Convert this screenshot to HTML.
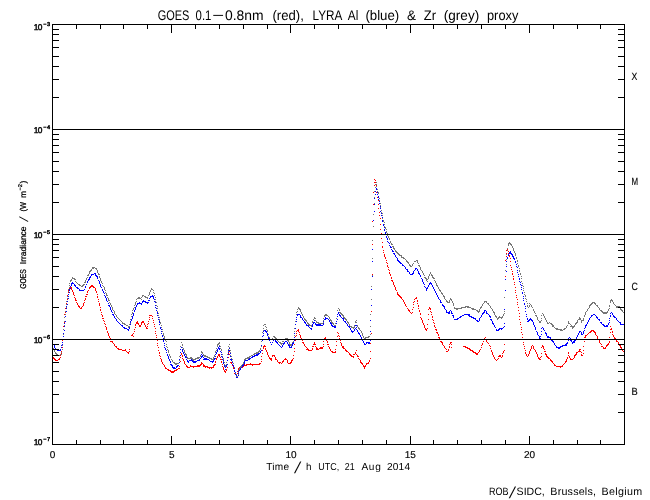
<!DOCTYPE html>
<html><head><meta charset="utf-8"><title>GOES / LYRA proxy</title>
<style>
html,body{margin:0;padding:0;background:#fff}
svg{display:block}
text{font-family:"Liberation Sans",sans-serif;fill:#000;stroke:#000;stroke-width:0;text-rendering:geometricPrecision}
#yticks text{stroke-width:0.45px}
#ylabel text{stroke-width:0.25px}
#classes text,#xticks text{stroke-width:0.15px}
</style></head><body>
<svg width="650" height="500" viewBox="0 0 650 500">
<rect width="650" height="500" fill="#fff"/>
<g shape-rendering="crispEdges">
<path fill="#ff0000" d="M374 179h1v1h-1zM375 180h1v1h-1zM374 182h2v1h-2zM374 185h1v1h-1zM376 185h1v1h-1zM376 188h1v1h-1zM373 192h1v1h-1zM376 192h1v1h-1zM377 194h1v1h-1zM377 197h1v1h-1zM378 200h1v1h-1zM373 204h1v1h-1zM378 204h1v1h-1zM378 208h1v1h-1zM379 212h1v1h-1zM379 215h1v1h-1zM380 218h1v1h-1zM372 221h1v1h-1zM380 224h1v1h-1zM380 229h1v1h-1zM381 233h1v1h-1zM381 238h1v1h-1zM382 242h1v1h-1zM372 244h1v1h-1zM382 246h1v1h-1zM382 247h1v1h-1zM507 249h1v1h-1zM383 250h1v1h-1zM506 250h1v1h-1zM508 251h1v1h-1zM383 252h1v1h-1zM506 253h1v1h-1zM508 253h1v1h-1zM384 254h1v1h-1zM384 255h1v1h-1zM509 255h1v1h-1zM384 256h1v1h-1zM506 256h1v1h-1zM509 256h1v1h-1zM385 257h1v1h-1zM385 258h1v1h-1zM510 258h1v1h-1zM386 260h1v1h-1zM505 260h1v1h-1zM510 261h1v1h-1zM386 262h1v1h-1zM387 263h1v1h-1zM387 265h1v1h-1zM510 265h1v1h-1zM387 266h1v1h-1zM388 267h1v1h-1zM511 267h1v1h-1zM388 269h1v1h-1zM511 269h1v1h-1zM389 270h1v1h-1zM512 271h1v1h-1zM389 272h1v1h-1zM389 273h1v1h-1zM512 273h1v1h-1zM372 274h1v1h-1zM390 274h1v1h-1zM512 274h1v1h-1zM390 275h1v1h-1zM505 276h1v1h-1zM513 276h1v1h-1zM391 277h1v1h-1zM391 278h1v1h-1zM513 278h1v1h-1zM513 279h1v1h-1zM391 280h2v1h-2zM392 281h1v1h-1zM393 282h1v1h-1zM514 282h1v1h-1zM393 283h1v1h-1zM393 284h1v1h-1zM514 284h1v1h-1zM91 285h2v1h-2zM394 285h1v1h-1zM90 286h4v1h-4zM394 286h1v1h-1zM69 287h3v1h-3zM89 287h2v1h-2zM93 287h2v1h-2zM395 287h1v1h-1zM515 287h1v1h-1zM69 288h1v1h-1zM71 288h1v1h-1zM89 288h1v1h-1zM95 288h1v1h-1zM395 288h1v1h-1zM71 289h1v1h-1zM95 289h1v1h-1zM395 289h1v1h-1zM68 290h1v1h-1zM72 290h1v1h-1zM88 290h1v1h-1zM95 290h1v1h-1zM396 290h1v1h-1zM515 290h1v1h-1zM72 291h1v1h-1zM87 291h1v1h-1zM96 291h1v1h-1zM68 292h1v1h-1zM73 292h1v1h-1zM87 292h1v1h-1zM96 292h1v1h-1zM397 292h1v1h-1zM515 292h1v1h-1zM73 293h1v1h-1zM397 293h1v1h-1zM68 294h1v1h-1zM73 294h1v1h-1zM86 294h2v1h-2zM97 294h1v1h-1zM397 294h2v1h-2zM67 295h1v1h-1zM74 295h1v1h-1zM398 295h2v1h-2zM516 295h1v1h-1zM85 296h2v1h-2zM97 296h1v1h-1zM399 296h2v1h-2zM74 297h1v1h-1zM97 297h1v1h-1zM400 297h2v1h-2zM416 297h1v1h-1zM516 297h1v1h-1zM75 298h1v1h-1zM85 298h1v1h-1zM401 298h1v1h-1zM415 298h2v1h-2zM67 299h1v1h-1zM75 299h1v1h-1zM85 299h1v1h-1zM98 299h1v1h-1zM402 299h1v1h-1zM414 299h1v1h-1zM517 299h1v1h-1zM75 300h2v1h-2zM84 300h1v1h-1zM403 300h1v1h-1zM417 300h1v1h-1zM66 301h1v1h-1zM98 301h1v1h-1zM403 301h1v1h-1zM414 301h1v1h-1zM417 301h1v1h-1zM76 302h1v1h-1zM84 302h1v1h-1zM404 302h1v1h-1zM413 302h1v1h-1zM517 302h1v1h-1zM66 303h1v1h-1zM77 303h1v1h-1zM83 303h1v1h-1zM99 303h1v1h-1zM404 303h1v1h-1zM417 303h1v1h-1zM77 304h1v1h-1zM83 304h1v1h-1zM99 304h1v1h-1zM405 304h1v1h-1zM413 304h1v1h-1zM517 304h1v1h-1zM78 305h1v1h-1zM83 305h1v1h-1zM99 305h1v1h-1zM405 305h1v1h-1zM418 305h1v1h-1zM66 306h1v1h-1zM78 306h2v1h-2zM82 306h1v1h-1zM406 306h1v1h-1zM418 306h1v1h-1zM79 307h1v1h-1zM81 307h1v1h-1zM100 307h1v1h-1zM413 307h1v1h-1zM429 307h1v1h-1zM518 307h1v1h-1zM65 308h1v1h-1zM80 308h2v1h-2zM407 308h1v1h-1zM418 308h1v1h-1zM429 308h2v1h-2zM100 309h1v1h-1zM408 309h1v1h-1zM412 309h1v1h-1zM428 309h1v1h-1zM430 309h1v1h-1zM100 310h1v1h-1zM408 310h2v1h-2zM419 310h1v1h-1zM518 310h1v1h-1zM371 311h1v1h-1zM409 311h1v1h-1zM419 311h1v1h-1zM430 311h1v1h-1zM504 311h1v1h-1zM65 312h1v1h-1zM101 312h1v1h-1zM410 312h1v1h-1zM412 312h1v1h-1zM431 312h1v1h-1zM411 313h1v1h-1zM420 313h1v1h-1zM519 313h1v1h-1zM64 314h1v1h-1zM101 314h1v1h-1zM420 314h1v1h-1zM428 314h1v1h-1zM431 314h1v1h-1zM102 315h1v1h-1zM149 315h3v1h-3zM102 316h1v1h-1zM152 316h1v1h-1zM432 316h1v1h-1zM519 316h1v1h-1zM64 317h1v1h-1zM149 317h1v1h-1zM420 317h1v1h-1zM432 317h1v1h-1zM102 318h2v1h-2zM152 318h1v1h-1zM421 318h1v1h-1zM149 319h1v1h-1zM421 319h1v1h-1zM428 319h1v1h-1zM432 319h1v1h-1zM519 319h1v1h-1zM103 320h1v1h-1zM153 320h1v1h-1zM422 320h1v1h-1zM433 320h1v1h-1zM104 321h1v1h-1zM137 321h1v1h-1zM142 321h2v1h-2zM148 321h1v1h-1zM422 321h1v1h-1zM64 322h1v1h-1zM136 322h2v1h-2zM141 322h3v1h-3zM153 322h1v1h-1zM422 322h1v1h-1zM433 322h1v1h-1zM520 322h1v1h-1zM104 323h1v1h-1zM136 323h3v1h-3zM141 323h1v1h-1zM144 323h1v1h-1zM148 323h1v1h-1zM423 323h1v1h-1zM434 323h1v1h-1zM105 324h1v1h-1zM135 324h1v1h-1zM138 324h1v1h-1zM141 324h1v1h-1zM144 324h1v1h-1zM147 324h1v1h-1zM154 324h1v1h-1zM423 324h1v1h-1zM427 324h1v1h-1zM520 324h1v1h-1zM135 325h1v1h-1zM139 325h2v1h-2zM145 325h1v1h-1zM424 325h1v1h-1zM434 325h1v1h-1zM63 326h1v1h-1zM105 326h1v1h-1zM139 326h2v1h-2zM145 326h1v1h-1zM147 326h1v1h-1zM154 326h1v1h-1zM424 326h1v1h-1zM434 326h1v1h-1zM610 326h1v1h-1zM106 327h1v1h-1zM135 327h1v1h-1zM146 327h1v1h-1zM424 327h1v1h-1zM435 327h1v1h-1zM521 327h1v1h-1zM106 328h1v1h-1zM146 328h2v1h-2zM155 328h1v1h-1zM425 328h1v1h-1zM427 328h1v1h-1zM611 328h1v1h-1zM106 329h1v1h-1zM134 329h1v1h-1zM298 329h1v1h-1zM425 329h2v1h-2zM435 329h2v1h-2zM521 329h1v1h-1zM610 329h2v1h-2zM297 330h2v1h-2zM426 330h1v1h-1zM436 330h1v1h-1zM591 330h3v1h-3zM107 331h1v1h-1zM134 331h1v1h-1zM155 331h1v1h-1zM296 331h1v1h-1zM298 331h1v1h-1zM590 331h2v1h-2zM593 331h2v1h-2zM612 331h1v1h-1zM107 332h1v1h-1zM299 332h1v1h-1zM337 332h1v1h-1zM436 332h2v1h-2zM521 332h1v1h-1zM589 332h2v1h-2zM594 332h2v1h-2zM610 332h1v1h-1zM612 332h1v1h-1zM63 333h1v1h-1zM108 333h1v1h-1zM133 333h1v1h-1zM155 333h1v1h-1zM296 333h1v1h-1zM338 333h1v1h-1zM371 333h1v1h-1zM437 333h1v1h-1zM588 333h1v1h-1zM595 333h1v1h-1zM108 334h1v1h-1zM132 334h1v1h-1zM299 334h1v1h-1zM438 334h1v1h-1zM522 334h1v1h-1zM587 334h1v1h-1zM595 334h1v1h-1zM612 334h1v1h-1zM108 335h1v1h-1zM131 335h2v1h-2zM156 335h1v1h-1zM296 335h1v1h-1zM300 335h1v1h-1zM338 335h1v1h-1zM438 335h1v1h-1zM585 335h2v1h-2zM596 335h1v1h-1zM613 335h1v1h-1zM109 336h1v1h-1zM133 336h1v1h-1zM295 336h1v1h-1zM300 336h1v1h-1zM337 336h1v1h-1zM339 336h1v1h-1zM585 336h1v1h-1zM597 336h1v1h-1zM613 336h1v1h-1zM109 337h1v1h-1zM156 337h1v1h-1zM300 337h1v1h-1zM325 337h1v1h-1zM438 337h2v1h-2zM485 337h1v1h-1zM522 337h1v1h-1zM584 337h2v1h-2zM597 337h1v1h-1zM609 337h1v1h-1zM614 337h1v1h-1zM110 338h1v1h-1zM301 338h1v1h-1zM324 338h2v1h-2zM339 338h1v1h-1zM439 338h1v1h-1zM484 338h1v1h-1zM597 338h1v1h-1zM614 338h2v1h-2zM110 339h1v1h-1zM301 339h1v1h-1zM324 339h1v1h-1zM326 339h1v1h-1zM339 339h1v1h-1zM440 339h1v1h-1zM484 339h1v1h-1zM486 339h1v1h-1zM523 339h1v1h-1zM598 339h1v1h-1zM614 339h2v1h-2zM62 340h1v1h-1zM157 340h1v1h-1zM295 340h1v1h-1zM302 340h1v1h-1zM326 340h1v1h-1zM340 340h1v1h-1zM486 340h1v1h-1zM599 340h1v1h-1zM616 340h1v1h-1zM110 341h3v1h-3zM323 341h1v1h-1zM327 341h1v1h-1zM336 341h1v1h-1zM440 341h2v1h-2zM483 341h1v1h-1zM486 341h1v1h-1zM584 341h1v1h-1zM599 341h1v1h-1zM609 341h1v1h-1zM616 341h2v1h-2zM112 342h1v1h-1zM302 342h2v1h-2zM314 342h1v1h-1zM327 342h1v1h-1zM340 342h1v1h-1zM441 342h2v1h-2zM450 342h2v1h-2zM487 342h1v1h-1zM523 342h1v1h-1zM599 342h1v1h-1zM609 342h1v1h-1zM618 342h1v1h-1zM113 343h1v1h-1zM157 343h1v1h-1zM303 343h1v1h-1zM314 343h1v1h-1zM341 343h1v1h-1zM370 343h1v1h-1zM442 343h1v1h-1zM450 343h1v1h-1zM482 343h1v1h-1zM488 343h1v1h-1zM600 343h1v1h-1zM608 343h1v1h-1zM618 343h1v1h-1zM114 344h1v1h-1zM294 344h1v1h-1zM304 344h1v1h-1zM313 344h3v1h-3zM323 344h1v1h-1zM327 344h2v1h-2zM341 344h1v1h-1zM442 344h1v1h-1zM449 344h1v1h-1zM451 344h1v1h-1zM482 344h1v1h-1zM504 344h1v1h-1zM523 344h1v1h-1zM601 344h1v1h-1zM607 344h2v1h-2zM619 344h1v1h-1zM114 345h1v1h-1zM157 345h1v1h-1zM264 345h1v1h-1zM304 345h1v1h-1zM336 345h1v1h-1zM341 345h1v1h-1zM443 345h1v1h-1zM481 345h1v1h-1zM489 345h1v1h-1zM532 345h1v1h-1zM542 345h1v1h-1zM606 345h2v1h-2zM619 345h2v1h-2zM115 346h2v1h-2zM263 346h3v1h-3zM305 346h1v1h-1zM312 346h2v1h-2zM315 346h1v1h-1zM323 346h1v1h-1zM328 346h1v1h-1zM342 346h2v1h-2zM444 346h1v1h-1zM449 346h1v1h-1zM463 346h3v1h-3zM490 346h1v1h-1zM524 346h1v1h-1zM531 346h1v1h-1zM533 346h1v1h-1zM542 346h2v1h-2zM583 346h1v1h-1zM601 346h2v1h-2zM606 346h1v1h-1zM620 346h1v1h-1zM62 347h1v1h-1zM116 347h1v1h-1zM158 347h1v1h-1zM263 347h1v1h-1zM306 347h1v1h-1zM316 347h1v1h-1zM320 347h3v1h-3zM329 347h1v1h-1zM342 347h2v1h-2zM444 347h1v1h-1zM449 347h1v1h-1zM451 347h1v1h-1zM465 347h3v1h-3zM481 347h1v1h-1zM531 347h1v1h-1zM533 347h1v1h-1zM541 347h1v1h-1zM543 347h1v1h-1zM603 347h1v1h-1zM605 347h1v1h-1zM620 347h2v1h-2zM117 348h2v1h-2zM263 348h1v1h-1zM265 348h1v1h-1zM294 348h1v1h-1zM307 348h1v1h-1zM312 348h1v1h-1zM316 348h2v1h-2zM319 348h4v1h-4zM329 348h1v1h-1zM343 348h2v1h-2zM445 348h1v1h-1zM467 348h3v1h-3zM490 348h1v1h-1zM524 348h1v1h-1zM531 348h1v1h-1zM533 348h1v1h-1zM543 348h1v1h-1zM603 348h3v1h-3zM621 348h1v1h-1zM62 349h1v1h-1zM118 349h4v1h-4zM125 349h1v1h-1zM129 349h1v1h-1zM265 349h1v1h-1zM306 349h3v1h-3zM312 349h1v1h-1zM316 349h3v1h-3zM330 349h1v1h-1zM335 349h1v1h-1zM345 349h1v1h-1zM446 349h1v1h-1zM448 349h1v1h-1zM469 349h2v1h-2zM480 349h1v1h-1zM530 349h1v1h-1zM534 349h1v1h-1zM544 349h1v1h-1zM579 349h2v1h-2zM622 349h1v1h-1zM122 350h4v1h-4zM158 350h1v1h-1zM262 350h1v1h-1zM266 350h1v1h-1zM308 350h4v1h-4zM330 350h1v1h-1zM345 350h2v1h-2zM356 350h1v1h-1zM448 350h1v1h-1zM470 350h3v1h-3zM479 350h1v1h-1zM491 350h1v1h-1zM504 350h1v1h-1zM525 350h1v1h-1zM530 350h1v1h-1zM535 350h1v1h-1zM579 350h1v1h-1zM583 350h1v1h-1zM622 350h1v1h-1zM61 351h1v1h-1zM126 351h1v1h-1zM129 351h1v1h-1zM229 351h1v1h-1zM266 351h1v1h-1zM294 351h1v1h-1zM331 351h2v1h-2zM335 351h1v1h-1zM346 351h2v1h-2zM370 351h1v1h-1zM446 351h2v1h-2zM472 351h2v1h-2zM479 351h1v1h-1zM491 351h1v1h-1zM503 351h1v1h-1zM529 351h1v1h-1zM535 351h1v1h-1zM544 351h2v1h-2zM578 351h3v1h-3zM623 351h1v1h-1zM127 352h2v1h-2zM159 352h1v1h-1zM267 352h1v1h-1zM332 352h4v1h-4zM348 352h1v1h-1zM355 352h1v1h-1zM473 352h3v1h-3zM478 352h1v1h-1zM492 352h1v1h-1zM503 352h1v1h-1zM525 352h1v1h-1zM529 352h1v1h-1zM536 352h1v1h-1zM568 352h1v1h-1zM576 352h2v1h-2zM581 352h1v1h-1zM61 353h1v1h-1zM128 353h1v1h-1zM159 353h1v1h-1zM181 353h1v1h-1zM228 353h1v1h-1zM262 353h1v1h-1zM267 353h1v1h-1zM349 353h1v1h-1zM355 353h1v1h-1zM475 353h3v1h-3zM492 353h1v1h-1zM502 353h1v1h-1zM525 353h1v1h-1zM529 353h1v1h-1zM536 353h1v1h-1zM541 353h1v1h-1zM545 353h1v1h-1zM568 353h1v1h-1zM576 353h1v1h-1zM583 353h1v1h-1zM181 354h1v1h-1zM218 354h2v1h-2zM228 354h2v1h-2zM267 354h1v1h-1zM349 354h2v1h-2zM353 354h2v1h-2zM356 354h1v1h-1zM476 354h2v1h-2zM492 354h1v1h-1zM526 354h1v1h-1zM528 354h1v1h-1zM537 354h1v1h-1zM545 354h2v1h-2zM575 354h2v1h-2zM581 354h1v1h-1zM60 355h1v1h-1zM159 355h1v1h-1zM180 355h1v1h-1zM182 355h1v1h-1zM218 355h2v1h-2zM268 355h1v1h-1zM272 355h3v1h-3zM293 355h1v1h-1zM350 355h2v1h-2zM357 355h1v1h-1zM493 355h1v1h-1zM499 355h2v1h-2zM502 355h1v1h-1zM526 355h1v1h-1zM528 355h1v1h-1zM537 355h1v1h-1zM546 355h1v1h-1zM568 355h1v1h-1zM574 355h2v1h-2zM581 355h2v1h-2zM160 356h1v1h-1zM182 356h1v1h-1zM217 356h1v1h-1zM219 356h1v1h-1zM230 356h1v1h-1zM261 356h1v1h-1zM268 356h1v1h-1zM272 356h1v1h-1zM274 356h1v1h-1zM351 356h3v1h-3zM357 356h2v1h-2zM493 356h1v1h-1zM498 356h3v1h-3zM502 356h1v1h-1zM527 356h1v1h-1zM537 356h1v1h-1zM541 356h1v1h-1zM546 356h2v1h-2zM569 356h1v1h-1zM574 356h1v1h-1zM52 357h2v1h-2zM60 357h1v1h-1zM180 357h1v1h-1zM217 357h1v1h-1zM220 357h1v1h-1zM228 357h1v1h-1zM269 357h1v1h-1zM275 357h1v1h-1zM353 357h1v1h-1zM494 357h1v1h-1zM501 357h1v1h-1zM538 357h1v1h-1zM540 357h1v1h-1zM547 357h2v1h-2zM567 357h1v1h-1zM569 357h1v1h-1zM574 357h1v1h-1zM52 358h3v1h-3zM59 358h1v1h-1zM160 358h1v1h-1zM182 358h1v1h-1zM216 358h1v1h-1zM269 358h3v1h-3zM275 358h1v1h-1zM285 358h1v1h-1zM293 358h1v1h-1zM358 358h1v1h-1zM370 358h1v1h-1zM494 358h1v1h-1zM498 358h1v1h-1zM538 358h2v1h-2zM548 358h2v1h-2zM567 358h1v1h-1zM570 358h1v1h-1zM573 358h1v1h-1zM54 359h2v1h-2zM58 359h2v1h-2zM161 359h1v1h-1zM183 359h1v1h-1zM216 359h1v1h-1zM220 359h2v1h-2zM230 359h1v1h-1zM261 359h1v1h-1zM270 359h2v1h-2zM275 359h2v1h-2zM284 359h3v1h-3zM292 359h1v1h-1zM359 359h1v1h-1zM495 359h1v1h-1zM497 359h1v1h-1zM539 359h2v1h-2zM550 359h1v1h-1zM566 359h1v1h-1zM570 359h3v1h-3zM55 360h3v1h-3zM161 360h1v1h-1zM183 360h1v1h-1zM227 360h1v1h-1zM271 360h1v1h-1zM277 360h1v1h-1zM283 360h1v1h-1zM287 360h1v1h-1zM291 360h2v1h-2zM360 360h1v1h-1zM369 360h1v1h-1zM496 360h1v1h-1zM550 360h2v1h-2zM566 360h1v1h-1zM161 361h1v1h-1zM180 361h1v1h-1zM184 361h1v1h-1zM215 361h1v1h-1zM221 361h1v1h-1zM261 361h1v1h-1zM277 361h1v1h-1zM282 361h2v1h-2zM287 361h1v1h-1zM291 361h1v1h-1zM360 361h1v1h-1zM369 361h1v1h-1zM551 361h2v1h-2zM565 361h2v1h-2zM162 362h1v1h-1zM184 362h1v1h-1zM201 362h1v1h-1zM215 362h1v1h-1zM221 362h1v1h-1zM230 362h2v1h-2zM278 362h3v1h-3zM282 362h1v1h-1zM287 362h1v1h-1zM290 362h2v1h-2zM360 362h2v1h-2zM368 362h1v1h-1zM552 362h1v1h-1zM565 362h1v1h-1zM162 363h1v1h-1zM184 363h1v1h-1zM201 363h2v1h-2zM231 363h1v1h-1zM250 363h1v1h-1zM259 363h2v1h-2zM279 363h1v1h-1zM281 363h1v1h-1zM288 363h3v1h-3zM361 363h2v1h-2zM366 363h3v1h-3zM553 363h1v1h-1zM564 363h1v1h-1zM163 364h1v1h-1zM185 364h1v1h-1zM200 364h2v1h-2zM203 364h1v1h-1zM214 364h2v1h-2zM222 364h1v1h-1zM227 364h1v1h-1zM232 364h1v1h-1zM244 364h1v1h-1zM246 364h14v1h-14zM362 364h1v1h-1zM366 364h1v1h-1zM554 364h1v1h-1zM563 364h1v1h-1zM164 365h1v1h-1zM186 365h1v1h-1zM190 365h1v1h-1zM197 365h4v1h-4zM203 365h2v1h-2zM213 365h2v1h-2zM232 365h1v1h-1zM243 365h4v1h-4zM252 365h1v1h-1zM363 365h1v1h-1zM365 365h1v1h-1zM554 365h2v1h-2zM562 365h1v1h-1zM164 366h1v1h-1zM179 366h1v1h-1zM186 366h2v1h-2zM190 366h10v1h-10zM203 366h5v1h-5zM213 366h1v1h-1zM222 366h1v1h-1zM242 366h2v1h-2zM363 366h3v1h-3zM556 366h7v1h-7zM165 367h1v1h-1zM187 367h3v1h-3zM193 367h1v1h-1zM205 367h1v1h-1zM207 367h7v1h-7zM223 367h1v1h-1zM227 367h1v1h-1zM233 367h1v1h-1zM239 367h4v1h-4zM364 367h1v1h-1zM560 367h1v1h-1zM165 368h2v1h-2zM178 368h2v1h-2zM209 368h1v1h-1zM211 368h1v1h-1zM223 368h1v1h-1zM233 368h1v1h-1zM238 368h2v1h-2zM364 368h1v1h-1zM167 369h2v1h-2zM176 369h2v1h-2zM223 369h1v1h-1zM226 369h1v1h-1zM238 369h1v1h-1zM168 370h3v1h-3zM174 370h3v1h-3zM224 370h1v1h-1zM226 370h1v1h-1zM234 370h1v1h-1zM170 371h5v1h-5zM224 371h2v1h-2zM234 371h1v1h-1zM237 371h1v1h-1zM171 372h3v1h-3zM225 372h1v1h-1zM234 373h1v1h-1zM237 373h1v1h-1zM235 374h2v1h-2zM236 375h1v1h-1zM236 376h1v1h-1z"/>
<path fill="#767676" d="M376 182h1v1h-1zM375 184h2v1h-2zM376 186h1v1h-1zM375 187h1v1h-1zM377 189h1v1h-1zM374 191h1v1h-1zM377 191h1v1h-1zM378 192h1v1h-1zM378 193h1v1h-1zM378 196h1v1h-1zM374 197h1v1h-1zM379 198h1v1h-1zM379 200h1v1h-1zM374 203h1v1h-1zM380 203h1v1h-1zM380 205h1v1h-1zM380 207h1v1h-1zM381 210h1v1h-1zM381 212h1v1h-1zM382 213h1v1h-1zM373 214h1v1h-1zM382 215h1v1h-1zM382 218h1v1h-1zM383 220h1v1h-1zM383 221h1v1h-1zM384 222h1v1h-1zM384 224h1v1h-1zM373 226h1v1h-1zM384 226h1v1h-1zM385 227h1v1h-1zM385 228h1v1h-1zM386 229h1v1h-1zM386 231h1v1h-1zM386 232h1v1h-1zM387 233h1v1h-1zM387 234h1v1h-1zM387 235h1v1h-1zM388 236h1v1h-1zM388 237h1v1h-1zM389 238h1v1h-1zM389 239h1v1h-1zM372 240h1v1h-1zM390 241h1v1h-1zM390 242h1v1h-1zM509 242h1v1h-1zM391 243h1v1h-1zM508 243h3v1h-3zM391 244h2v1h-2zM508 244h1v1h-1zM510 244h2v1h-2zM508 245h1v1h-1zM511 245h1v1h-1zM392 246h2v1h-2zM512 246h1v1h-1zM393 247h1v1h-1zM512 247h1v1h-1zM393 248h2v1h-2zM507 248h1v1h-1zM513 248h1v1h-1zM394 249h1v1h-1zM513 249h1v1h-1zM395 250h1v1h-1zM507 250h1v1h-1zM513 250h1v1h-1zM395 251h2v1h-2zM514 251h1v1h-1zM396 252h2v1h-2zM514 252h1v1h-1zM397 253h2v1h-2zM515 253h1v1h-1zM398 254h2v1h-2zM506 254h1v1h-1zM515 254h1v1h-1zM399 255h3v1h-3zM515 255h1v1h-1zM401 256h1v1h-1zM401 257h3v1h-3zM516 257h1v1h-1zM372 258h1v1h-1zM403 258h2v1h-2zM516 258h1v1h-1zM405 259h1v1h-1zM506 259h1v1h-1zM406 260h1v1h-1zM416 260h2v1h-2zM517 260h1v1h-1zM406 261h2v1h-2zM414 261h2v1h-2zM417 261h1v1h-1zM517 261h1v1h-1zM407 262h2v1h-2zM417 262h1v1h-1zM408 263h1v1h-1zM413 263h1v1h-1zM418 263h1v1h-1zM517 263h1v1h-1zM409 264h1v1h-1zM412 264h1v1h-1zM506 264h1v1h-1zM409 265h2v1h-2zM412 265h1v1h-1zM418 265h2v1h-2zM518 265h1v1h-1zM410 266h2v1h-2zM419 266h1v1h-1zM518 266h1v1h-1zM92 267h3v1h-3zM420 267h1v1h-1zM92 268h2v1h-2zM95 268h2v1h-2zM420 268h1v1h-1zM519 268h1v1h-1zM91 269h1v1h-1zM96 269h1v1h-1zM420 269h1v1h-1zM90 270h2v1h-2zM97 270h1v1h-1zM421 270h1v1h-1zM505 270h1v1h-1zM519 270h1v1h-1zM89 271h2v1h-2zM97 271h1v1h-1zM422 271h1v1h-1zM519 271h1v1h-1zM89 272h1v1h-1zM97 272h1v1h-1zM422 272h1v1h-1zM430 272h1v1h-1zM89 273h1v1h-1zM98 273h1v1h-1zM423 273h1v1h-1zM430 273h1v1h-1zM520 273h1v1h-1zM88 274h1v1h-1zM98 274h2v1h-2zM423 274h1v1h-1zM429 274h1v1h-1zM431 274h1v1h-1zM520 274h1v1h-1zM87 275h2v1h-2zM372 275h1v1h-1zM424 275h1v1h-1zM429 275h1v1h-1zM431 275h2v1h-2zM99 276h1v1h-1zM428 276h1v1h-1zM432 276h1v1h-1zM521 276h1v1h-1zM72 277h1v1h-1zM87 277h1v1h-1zM99 277h1v1h-1zM424 277h2v1h-2zM428 277h1v1h-1zM432 277h2v1h-2zM72 278h3v1h-3zM86 278h1v1h-1zM100 278h1v1h-1zM425 278h2v1h-2zM428 278h1v1h-1zM433 278h2v1h-2zM521 278h1v1h-1zM71 279h1v1h-1zM74 279h2v1h-2zM86 279h1v1h-1zM100 279h1v1h-1zM426 279h2v1h-2zM505 279h1v1h-1zM70 280h2v1h-2zM85 280h1v1h-1zM100 280h1v1h-1zM426 280h1v1h-1zM434 280h1v1h-1zM70 281h1v1h-1zM75 281h1v1h-1zM85 281h1v1h-1zM101 281h1v1h-1zM427 281h1v1h-1zM435 281h1v1h-1zM521 281h1v1h-1zM76 282h1v1h-1zM84 282h2v1h-2zM101 282h1v1h-1zM435 282h1v1h-1zM69 283h1v1h-1zM77 283h1v1h-1zM102 283h1v1h-1zM436 283h1v1h-1zM522 283h1v1h-1zM78 284h2v1h-2zM83 284h2v1h-2zM436 284h1v1h-1zM69 285h1v1h-1zM79 285h2v1h-2zM82 285h2v1h-2zM102 285h1v1h-1zM436 285h2v1h-2zM522 285h1v1h-1zM81 286h2v1h-2zM103 286h1v1h-1zM371 286h1v1h-1zM437 286h1v1h-1zM523 286h1v1h-1zM69 287h1v1h-1zM104 287h1v1h-1zM438 287h1v1h-1zM104 288h1v1h-1zM151 288h1v1h-1zM438 288h1v1h-1zM523 288h1v1h-1zM68 289h1v1h-1zM104 289h1v1h-1zM151 289h2v1h-2zM439 289h1v1h-1zM105 290h1v1h-1zM150 290h1v1h-1zM153 290h1v1h-1zM439 290h2v1h-2zM523 290h1v1h-1zM68 291h1v1h-1zM150 291h1v1h-1zM440 291h1v1h-1zM105 292h1v1h-1zM149 292h1v1h-1zM153 292h1v1h-1zM441 292h1v1h-1zM524 292h1v1h-1zM106 293h1v1h-1zM149 293h1v1h-1zM154 293h1v1h-1zM441 293h2v1h-2zM68 294h1v1h-1zM106 294h1v1h-1zM149 294h1v1h-1zM442 294h1v1h-1zM524 294h1v1h-1zM106 295h2v1h-2zM142 295h2v1h-2zM148 295h1v1h-1zM154 295h1v1h-1zM443 295h1v1h-1zM525 295h1v1h-1zM67 296h1v1h-1zM142 296h1v1h-1zM144 296h2v1h-2zM443 296h2v1h-2zM525 296h1v1h-1zM107 297h1v1h-1zM138 297h2v1h-2zM141 297h1v1h-1zM145 297h3v1h-3zM155 297h1v1h-1zM444 297h1v1h-1zM504 297h1v1h-1zM67 298h1v1h-1zM108 298h1v1h-1zM137 298h4v1h-4zM147 298h1v1h-1zM444 298h1v1h-1zM450 298h1v1h-1zM525 298h1v1h-1zM108 299h1v1h-1zM136 299h1v1h-1zM141 299h1v1h-1zM155 299h1v1h-1zM371 299h1v1h-1zM445 299h1v1h-1zM450 299h2v1h-2zM526 299h1v1h-1zM611 299h1v1h-1zM108 300h2v1h-2zM446 300h1v1h-1zM449 300h1v1h-1zM451 300h1v1h-1zM610 300h3v1h-3zM66 301h1v1h-1zM136 301h1v1h-1zM155 301h1v1h-1zM446 301h2v1h-2zM449 301h1v1h-1zM452 301h1v1h-1zM484 301h3v1h-3zM526 301h1v1h-1zM610 301h1v1h-1zM612 301h1v1h-1zM109 302h1v1h-1zM135 302h1v1h-1zM156 302h1v1h-1zM447 302h3v1h-3zM452 302h1v1h-1zM484 302h1v1h-1zM486 302h1v1h-1zM592 302h3v1h-3zM610 302h1v1h-1zM613 302h1v1h-1zM110 303h1v1h-1zM135 303h1v1h-1zM453 303h1v1h-1zM483 303h1v1h-1zM487 303h2v1h-2zM527 303h1v1h-1zM529 303h1v1h-1zM591 303h2v1h-2zM594 303h2v1h-2zM613 303h1v1h-1zM66 304h1v1h-1zM110 304h1v1h-1zM135 304h1v1h-1zM453 304h1v1h-1zM482 304h1v1h-1zM488 304h1v1h-1zM530 304h1v1h-1zM590 304h2v1h-2zM595 304h1v1h-1zM614 304h1v1h-1zM111 305h1v1h-1zM134 305h1v1h-1zM156 305h1v1h-1zM453 305h1v1h-1zM482 305h1v1h-1zM489 305h1v1h-1zM527 305h1v1h-1zM529 305h1v1h-1zM531 305h1v1h-1zM589 305h2v1h-2zM596 305h2v1h-2zM609 305h1v1h-1zM615 305h1v1h-1zM111 306h1v1h-1zM157 306h1v1h-1zM465 306h4v1h-4zM481 306h1v1h-1zM490 306h1v1h-1zM527 306h1v1h-1zM529 306h1v1h-1zM531 306h1v1h-1zM589 306h1v1h-1zM597 306h1v1h-1zM609 306h1v1h-1zM616 306h4v1h-4zM66 307h1v1h-1zM112 307h1v1h-1zM134 307h1v1h-1zM298 307h1v1h-1zM454 307h1v1h-1zM461 307h5v1h-5zM467 307h4v1h-4zM480 307h2v1h-2zM490 307h1v1h-1zM528 307h1v1h-1zM532 307h1v1h-1zM589 307h1v1h-1zM598 307h1v1h-1zM616 307h5v1h-5zM112 308h1v1h-1zM133 308h1v1h-1zM157 308h1v1h-1zM298 308h2v1h-2zM338 308h1v1h-1zM454 308h8v1h-8zM471 308h3v1h-3zM480 308h1v1h-1zM491 308h1v1h-1zM588 308h1v1h-1zM599 308h1v1h-1zM609 308h1v1h-1zM620 308h1v1h-1zM112 309h1v1h-1zM133 309h1v1h-1zM297 309h1v1h-1zM299 309h2v1h-2zM339 309h1v1h-1zM456 309h2v1h-2zM472 309h4v1h-4zM479 309h1v1h-1zM492 309h1v1h-1zM533 309h1v1h-1zM587 309h1v1h-1zM599 309h1v1h-1zM608 309h1v1h-1zM620 309h2v1h-2zM113 310h1v1h-1zM132 310h1v1h-1zM300 310h1v1h-1zM337 310h1v1h-1zM339 310h1v1h-1zM476 310h2v1h-2zM479 310h1v1h-1zM492 310h1v1h-1zM533 310h1v1h-1zM587 310h1v1h-1zM600 310h2v1h-2zM608 310h1v1h-1zM621 310h2v1h-2zM65 311h1v1h-1zM114 311h1v1h-1zM157 311h1v1h-1zM297 311h1v1h-1zM300 311h1v1h-1zM477 311h3v1h-3zM493 311h1v1h-1zM504 311h1v1h-1zM534 311h1v1h-1zM586 311h1v1h-1zM601 311h2v1h-2zM607 311h1v1h-1zM622 311h1v1h-1zM114 312h1v1h-1zM132 312h1v1h-1zM296 312h1v1h-1zM301 312h1v1h-1zM339 312h2v1h-2zM478 312h1v1h-1zM493 312h2v1h-2zM534 312h1v1h-1zM585 312h1v1h-1zM602 312h6v1h-6zM623 312h1v1h-1zM114 313h1v1h-1zM132 313h1v1h-1zM158 313h1v1h-1zM301 313h1v1h-1zM340 313h2v1h-2zM494 313h1v1h-1zM504 313h1v1h-1zM535 313h1v1h-1zM542 313h1v1h-1zM585 313h1v1h-1zM603 313h4v1h-4zM65 314h1v1h-1zM115 314h1v1h-1zM131 314h1v1h-1zM296 314h1v1h-1zM302 314h1v1h-1zM325 314h2v1h-2zM337 314h1v1h-1zM341 314h2v1h-2zM370 314h1v1h-1zM494 314h1v1h-1zM503 314h1v1h-1zM543 314h1v1h-1zM585 314h1v1h-1zM116 315h1v1h-1zM158 315h1v1h-1zM302 315h1v1h-1zM324 315h4v1h-4zM342 315h2v1h-2zM495 315h1v1h-1zM503 315h1v1h-1zM535 315h2v1h-2zM541 315h1v1h-1zM543 315h1v1h-1zM584 315h1v1h-1zM116 316h1v1h-1zM131 316h1v1h-1zM303 316h1v1h-1zM324 316h1v1h-1zM328 316h1v1h-1zM337 316h1v1h-1zM343 316h1v1h-1zM495 316h2v1h-2zM499 316h1v1h-1zM502 316h1v1h-1zM536 316h1v1h-1zM544 316h1v1h-1zM584 316h1v1h-1zM64 317h1v1h-1zM117 317h1v1h-1zM159 317h1v1h-1zM296 317h1v1h-1zM303 317h1v1h-1zM314 317h1v1h-1zM329 317h1v1h-1zM343 317h2v1h-2zM496 317h1v1h-1zM498 317h5v1h-5zM537 317h1v1h-1zM544 317h1v1h-1zM579 317h1v1h-1zM118 318h1v1h-1zM304 318h1v1h-1zM314 318h2v1h-2zM323 318h1v1h-1zM329 318h1v1h-1zM336 318h1v1h-1zM344 318h2v1h-2zM497 318h2v1h-2zM501 318h1v1h-1zM537 318h1v1h-1zM541 318h1v1h-1zM545 318h1v1h-1zM579 318h2v1h-2zM583 318h1v1h-1zM119 319h1v1h-1zM130 319h1v1h-1zM159 319h1v1h-1zM304 319h2v1h-2zM313 319h1v1h-1zM330 319h1v1h-1zM345 319h2v1h-2zM497 319h1v1h-1zM537 319h1v1h-1zM545 319h1v1h-1zM578 319h3v1h-3zM583 319h1v1h-1zM120 320h1v1h-1zM159 320h1v1h-1zM305 320h2v1h-2zM315 320h1v1h-1zM323 320h1v1h-1zM330 320h2v1h-2zM346 320h1v1h-1zM356 320h1v1h-1zM538 320h1v1h-1zM541 320h1v1h-1zM546 320h1v1h-1zM577 320h1v1h-1zM581 320h3v1h-3zM64 321h1v1h-1zM121 321h1v1h-1zM130 321h1v1h-1zM295 321h1v1h-1zM306 321h1v1h-1zM312 321h1v1h-1zM316 321h1v1h-1zM331 321h1v1h-1zM336 321h1v1h-1zM347 321h1v1h-1zM355 321h1v1h-1zM539 321h2v1h-2zM546 321h1v1h-1zM568 321h1v1h-1zM577 321h1v1h-1zM581 321h1v1h-1zM122 322h1v1h-1zM160 322h1v1h-1zM307 322h1v1h-1zM312 322h1v1h-1zM316 322h3v1h-3zM323 322h1v1h-1zM331 322h2v1h-2zM347 322h2v1h-2zM355 322h2v1h-2zM539 322h2v1h-2zM547 322h1v1h-1zM549 322h1v1h-1zM568 322h1v1h-1zM576 322h2v1h-2zM581 322h1v1h-1zM122 323h3v1h-3zM130 323h1v1h-1zM160 323h1v1h-1zM307 323h2v1h-2zM318 323h5v1h-5zM332 323h2v1h-2zM335 323h1v1h-1zM348 323h1v1h-1zM547 323h2v1h-2zM550 323h2v1h-2zM568 323h2v1h-2zM575 323h2v1h-2zM124 324h2v1h-2zM129 324h1v1h-1zM264 324h2v1h-2zM295 324h1v1h-1zM308 324h2v1h-2zM312 324h1v1h-1zM333 324h1v1h-1zM349 324h1v1h-1zM551 324h2v1h-2zM570 324h1v1h-1zM575 324h1v1h-1zM64 325h1v1h-1zM126 325h2v1h-2zM161 325h1v1h-1zM263 325h1v1h-1zM309 325h3v1h-3zM334 325h2v1h-2zM349 325h1v1h-1zM354 325h1v1h-1zM357 325h1v1h-1zM552 325h2v1h-2zM567 325h1v1h-1zM571 325h1v1h-1zM574 325h1v1h-1zM128 326h2v1h-2zM265 326h1v1h-1zM311 326h1v1h-1zM350 326h2v1h-2zM354 326h1v1h-1zM357 326h1v1h-1zM370 326h1v1h-1zM552 326h2v1h-2zM566 326h1v1h-1zM570 326h5v1h-5zM128 327h1v1h-1zM161 327h1v1h-1zM266 327h1v1h-1zM351 327h4v1h-4zM358 327h1v1h-1zM554 327h1v1h-1zM566 327h1v1h-1zM572 327h2v1h-2zM263 328h1v1h-1zM294 328h1v1h-1zM353 328h1v1h-1zM358 328h2v1h-2zM555 328h3v1h-3zM564 328h2v1h-2zM572 328h1v1h-1zM63 329h1v1h-1zM161 329h2v1h-2zM266 329h1v1h-1zM359 329h1v1h-1zM556 329h6v1h-6zM563 329h2v1h-2zM263 330h1v1h-1zM267 330h1v1h-1zM360 330h1v1h-1zM560 330h3v1h-3zM162 331h1v1h-1zM267 331h1v1h-1zM294 331h1v1h-1zM361 331h1v1h-1zM262 332h1v1h-1zM361 332h1v1h-1zM163 333h1v1h-1zM267 333h1v1h-1zM362 333h1v1h-1zM63 334h1v1h-1zM163 334h1v1h-1zM268 334h1v1h-1zM362 334h1v1h-1zM370 334h1v1h-1zM163 335h1v1h-1zM294 335h1v1h-1zM362 335h1v1h-1zM164 336h1v1h-1zM262 336h1v1h-1zM268 336h1v1h-1zM273 336h2v1h-2zM363 336h1v1h-1zM368 336h2v1h-2zM164 337h1v1h-1zM269 337h1v1h-1zM274 337h2v1h-2zM363 337h1v1h-1zM365 337h4v1h-4zM164 338h1v1h-1zM269 338h1v1h-1zM272 338h1v1h-1zM275 338h2v1h-2zM285 338h3v1h-3zM364 338h2v1h-2zM62 339h1v1h-1zM165 339h1v1h-1zM270 339h2v1h-2zM276 339h2v1h-2zM283 339h3v1h-3zM287 339h1v1h-1zM293 339h1v1h-1zM364 339h1v1h-1zM165 340h1v1h-1zM277 340h1v1h-1zM287 340h2v1h-2zM166 341h1v1h-1zM261 341h1v1h-1zM278 341h1v1h-1zM282 341h2v1h-2zM288 341h1v1h-1zM293 341h1v1h-1zM181 342h1v1h-1zM219 342h1v1h-1zM279 342h2v1h-2zM289 342h1v1h-1zM292 342h1v1h-1zM218 343h2v1h-2zM280 343h3v1h-3zM289 343h1v1h-1zM292 343h1v1h-1zM166 344h1v1h-1zM182 344h1v1h-1zM217 344h2v1h-2zM229 344h1v1h-1zM281 344h1v1h-1zM289 344h4v1h-4zM62 345h1v1h-1zM182 345h1v1h-1zM217 345h1v1h-1zM219 345h1v1h-1zM290 345h2v1h-2zM52 346h1v1h-1zM166 346h1v1h-1zM180 346h1v1h-1zM217 346h1v1h-1zM220 346h1v1h-1zM228 346h1v1h-1zM261 346h1v1h-1zM52 347h1v1h-1zM167 347h1v1h-1zM182 347h1v1h-1zM229 347h1v1h-1zM53 348h1v1h-1zM183 348h1v1h-1zM216 348h1v1h-1zM220 348h1v1h-1zM260 348h1v1h-1zM53 349h1v1h-1zM62 349h1v1h-1zM167 349h1v1h-1zM180 349h1v1h-1zM183 349h1v1h-1zM221 349h1v1h-1zM228 349h1v1h-1zM260 349h1v1h-1zM54 350h1v1h-1zM168 350h1v1h-1zM184 350h1v1h-1zM216 350h1v1h-1zM221 350h1v1h-1zM230 350h1v1h-1zM259 350h1v1h-1zM54 351h1v1h-1zM168 351h1v1h-1zM184 351h1v1h-1zM201 351h1v1h-1zM215 351h1v1h-1zM228 351h1v1h-1zM258 351h2v1h-2zM55 352h1v1h-1zM61 352h1v1h-1zM168 352h1v1h-1zM180 352h1v1h-1zM184 352h1v1h-1zM201 352h2v1h-2zM215 352h1v1h-1zM221 352h1v1h-1zM230 352h1v1h-1zM256 352h3v1h-3zM55 353h2v1h-2zM185 353h1v1h-1zM202 353h1v1h-1zM254 353h4v1h-4zM56 354h2v1h-2zM60 354h2v1h-2zM169 354h1v1h-1zM185 354h2v1h-2zM201 354h1v1h-1zM203 354h1v1h-1zM215 354h1v1h-1zM222 354h1v1h-1zM227 354h1v1h-1zM253 354h2v1h-2zM57 355h3v1h-3zM169 355h1v1h-1zM186 355h1v1h-1zM200 355h1v1h-1zM203 355h3v1h-3zM214 355h1v1h-1zM230 355h1v1h-1zM251 355h2v1h-2zM170 356h1v1h-1zM179 356h1v1h-1zM186 356h1v1h-1zM200 356h1v1h-1zM204 356h4v1h-4zM214 356h1v1h-1zM222 356h1v1h-1zM231 356h1v1h-1zM249 356h2v1h-2zM170 357h1v1h-1zM187 357h1v1h-1zM190 357h2v1h-2zM197 357h3v1h-3zM207 357h3v1h-3zM213 357h1v1h-1zM227 357h1v1h-1zM247 357h3v1h-3zM187 358h6v1h-6zM195 358h4v1h-4zM209 358h3v1h-3zM213 358h1v1h-1zM223 358h1v1h-1zM231 358h1v1h-1zM245 358h4v1h-4zM171 359h1v1h-1zM192 359h4v1h-4zM211 359h3v1h-3zM223 359h1v1h-1zM232 359h1v1h-1zM244 359h2v1h-2zM172 360h1v1h-1zM179 360h1v1h-1zM193 360h1v1h-1zM227 360h1v1h-1zM244 360h1v1h-1zM172 361h1v1h-1zM223 361h1v1h-1zM232 361h1v1h-1zM244 361h1v1h-1zM173 362h2v1h-2zM224 362h1v1h-1zM226 362h1v1h-1zM232 362h1v1h-1zM243 362h1v1h-1zM174 363h5v1h-5zM233 363h1v1h-1zM243 363h1v1h-1zM175 364h2v1h-2zM224 364h1v1h-1zM226 364h1v1h-1zM242 364h1v1h-1zM225 365h1v1h-1zM233 365h1v1h-1zM241 365h2v1h-2zM225 366h1v1h-1zM240 366h2v1h-2zM234 367h1v1h-1zM240 367h1v1h-1zM234 368h1v1h-1zM239 368h1v1h-1zM239 369h1v1h-1zM238 370h1v1h-1zM234 371h1v1h-1zM235 372h1v1h-1zM238 372h1v1h-1zM235 373h1v1h-1zM236 374h1v1h-1zM238 374h1v1h-1zM236 375h1v1h-1zM236 376h2v1h-2zM237 377h1v1h-1z"/>
<path fill="#0000ff" d="M376 188h1v1h-1zM376 189h1v1h-1zM375 191h1v1h-1zM377 192h1v1h-1zM375 194h1v1h-1zM377 194h1v1h-1zM378 196h1v1h-1zM378 197h1v1h-1zM374 198h1v1h-1zM378 199h1v1h-1zM379 201h1v1h-1zM379 203h1v1h-1zM374 204h1v1h-1zM380 206h1v1h-1zM380 208h1v1h-1zM374 211h1v1h-1zM380 211h1v1h-1zM381 213h1v1h-1zM381 215h1v1h-1zM382 217h1v1h-1zM373 220h1v1h-1zM382 220h1v1h-1zM382 221h1v1h-1zM383 224h1v1h-1zM383 225h1v1h-1zM384 227h1v1h-1zM384 229h1v1h-1zM384 230h1v1h-1zM385 232h1v1h-1zM385 233h1v1h-1zM373 234h1v1h-1zM386 234h1v1h-1zM386 236h1v1h-1zM386 237h1v1h-1zM387 238h1v1h-1zM387 239h1v1h-1zM387 241h1v1h-1zM388 242h1v1h-1zM389 243h1v1h-1zM389 245h1v1h-1zM390 246h1v1h-1zM390 247h2v1h-2zM372 249h1v1h-1zM391 249h1v1h-1zM392 250h1v1h-1zM392 251h2v1h-2zM510 251h1v1h-1zM509 252h2v1h-2zM393 253h2v1h-2zM509 253h3v1h-3zM394 254h1v1h-1zM508 254h1v1h-1zM511 254h2v1h-2zM395 255h1v1h-1zM508 255h1v1h-1zM512 255h1v1h-1zM395 256h1v1h-1zM512 256h2v1h-2zM396 257h1v1h-1zM507 257h1v1h-1zM513 257h1v1h-1zM397 258h1v1h-1zM507 258h1v1h-1zM513 258h2v1h-2zM397 259h1v1h-1zM514 259h1v1h-1zM397 260h2v1h-2zM372 261h1v1h-1zM398 261h2v1h-2zM506 261h1v1h-1zM515 261h1v1h-1zM399 262h2v1h-2zM515 262h1v1h-1zM400 263h2v1h-2zM402 264h1v1h-1zM516 264h1v1h-1zM402 265h2v1h-2zM404 266h1v1h-1zM506 266h1v1h-1zM516 266h1v1h-1zM405 267h1v1h-1zM517 267h1v1h-1zM405 268h1v1h-1zM415 268h2v1h-2zM406 269h2v1h-2zM415 269h1v1h-1zM417 269h1v1h-1zM407 270h1v1h-1zM414 270h1v1h-1zM417 270h1v1h-1zM517 270h1v1h-1zM407 271h2v1h-2zM413 271h1v1h-1zM418 271h1v1h-1zM506 271h1v1h-1zM409 272h1v1h-1zM413 272h1v1h-1zM418 272h1v1h-1zM517 272h1v1h-1zM94 273h2v1h-2zM409 273h1v1h-1zM412 273h2v1h-2zM418 273h2v1h-2zM91 274h3v1h-3zM95 274h1v1h-1zM410 274h3v1h-3zM419 274h1v1h-1zM518 274h1v1h-1zM91 275h1v1h-1zM95 275h2v1h-2zM420 275h1v1h-1zM90 276h1v1h-1zM96 276h2v1h-2zM372 276h1v1h-1zM420 276h1v1h-1zM518 276h1v1h-1zM89 277h2v1h-2zM97 277h1v1h-1zM89 278h1v1h-1zM97 278h1v1h-1zM421 278h1v1h-1zM519 278h1v1h-1zM88 279h2v1h-2zM422 279h1v1h-1zM505 279h1v1h-1zM519 279h1v1h-1zM88 280h1v1h-1zM98 280h1v1h-1zM422 280h1v1h-1zM87 281h1v1h-1zM99 281h1v1h-1zM422 281h1v1h-1zM519 281h1v1h-1zM72 282h1v1h-1zM87 282h1v1h-1zM99 282h1v1h-1zM423 282h1v1h-1zM430 282h1v1h-1zM520 282h1v1h-1zM71 283h3v1h-3zM99 283h1v1h-1zM423 283h1v1h-1zM429 283h3v1h-3zM71 284h1v1h-1zM74 284h1v1h-1zM86 284h1v1h-1zM100 284h1v1h-1zM424 284h1v1h-1zM429 284h1v1h-1zM431 284h1v1h-1zM520 284h1v1h-1zM71 285h1v1h-1zM74 285h2v1h-2zM100 285h1v1h-1zM428 285h1v1h-1zM432 285h1v1h-1zM521 285h1v1h-1zM70 286h1v1h-1zM75 286h1v1h-1zM85 286h1v1h-1zM100 286h1v1h-1zM424 286h1v1h-1zM428 286h1v1h-1zM432 286h1v1h-1zM76 287h2v1h-2zM85 287h1v1h-1zM101 287h1v1h-1zM425 287h1v1h-1zM427 287h1v1h-1zM433 287h1v1h-1zM521 287h1v1h-1zM70 288h1v1h-1zM77 288h2v1h-2zM426 288h2v1h-2zM433 288h1v1h-1zM69 289h1v1h-1zM79 289h1v1h-1zM84 289h1v1h-1zM102 289h1v1h-1zM371 289h1v1h-1zM426 289h1v1h-1zM434 289h1v1h-1zM521 289h1v1h-1zM69 290h1v1h-1zM79 290h5v1h-5zM102 290h1v1h-1zM426 290h1v1h-1zM434 290h1v1h-1zM505 290h1v1h-1zM103 291h1v1h-1zM435 291h1v1h-1zM69 292h1v1h-1zM103 292h1v1h-1zM435 292h1v1h-1zM522 292h1v1h-1zM104 293h1v1h-1zM436 293h1v1h-1zM522 293h1v1h-1zM68 294h1v1h-1zM436 294h1v1h-1zM104 295h1v1h-1zM152 295h1v1h-1zM437 295h1v1h-1zM68 296h1v1h-1zM105 296h1v1h-1zM150 296h4v1h-4zM437 296h1v1h-1zM523 296h1v1h-1zM105 297h1v1h-1zM150 297h1v1h-1zM153 297h1v1h-1zM438 297h1v1h-1zM68 298h1v1h-1zM106 298h1v1h-1zM149 298h1v1h-1zM153 298h1v1h-1zM438 298h1v1h-1zM523 298h1v1h-1zM106 299h1v1h-1zM154 299h1v1h-1zM439 299h1v1h-1zM106 300h1v1h-1zM143 300h1v1h-1zM148 300h2v1h-2zM440 300h1v1h-1zM523 300h1v1h-1zM67 301h1v1h-1zM107 301h1v1h-1zM142 301h4v1h-4zM154 301h1v1h-1zM440 301h1v1h-1zM139 302h1v1h-1zM142 302h1v1h-1zM145 302h4v1h-4zM155 302h1v1h-1zM440 302h2v1h-2zM108 303h1v1h-1zM137 303h5v1h-5zM147 303h1v1h-1zM524 303h1v1h-1zM67 304h1v1h-1zM137 304h1v1h-1zM141 304h1v1h-1zM442 304h1v1h-1zM524 304h1v1h-1zM108 305h2v1h-2zM136 305h1v1h-1zM155 305h1v1h-1zM371 305h1v1h-1zM442 305h2v1h-2zM66 306h1v1h-1zM109 306h1v1h-1zM136 306h1v1h-1zM443 306h2v1h-2zM525 306h1v1h-1zM110 307h1v1h-1zM135 307h1v1h-1zM155 307h1v1h-1zM444 307h1v1h-1zM66 308h1v1h-1zM110 308h1v1h-1zM135 308h1v1h-1zM156 308h1v1h-1zM444 308h1v1h-1zM525 308h1v1h-1zM110 309h1v1h-1zM135 309h1v1h-1zM445 309h1v1h-1zM504 309h1v1h-1zM111 310h1v1h-1zM134 310h1v1h-1zM156 310h1v1h-1zM446 310h1v1h-1zM450 310h1v1h-1zM484 310h2v1h-2zM66 311h1v1h-1zM111 311h1v1h-1zM134 311h1v1h-1zM446 311h1v1h-1zM449 311h1v1h-1zM451 311h1v1h-1zM484 311h1v1h-1zM486 311h1v1h-1zM525 311h1v1h-1zM112 312h1v1h-1zM157 312h1v1h-1zM338 312h1v1h-1zM446 312h4v1h-4zM451 312h1v1h-1zM483 312h2v1h-2zM486 312h1v1h-1zM611 312h1v1h-1zM133 313h1v1h-1zM157 313h1v1h-1zM338 313h1v1h-1zM448 313h2v1h-2zM451 313h2v1h-2zM482 313h2v1h-2zM486 313h2v1h-2zM610 313h1v1h-1zM612 313h1v1h-1zM112 314h2v1h-2zM133 314h1v1h-1zM297 314h3v1h-3zM337 314h1v1h-1zM339 314h1v1h-1zM464 314h6v1h-6zM482 314h1v1h-1zM488 314h1v1h-1zM526 314h1v1h-1zM593 314h2v1h-2zM612 314h1v1h-1zM113 315h1v1h-1zM133 315h1v1h-1zM157 315h1v1h-1zM297 315h1v1h-1zM300 315h1v1h-1zM339 315h2v1h-2zM452 315h2v1h-2zM462 315h2v1h-2zM468 315h2v1h-2zM481 315h1v1h-1zM489 315h1v1h-1zM591 315h2v1h-2zM595 315h1v1h-1zM610 315h1v1h-1zM613 315h1v1h-1zM65 316h1v1h-1zM114 316h1v1h-1zM132 316h1v1h-1zM300 316h1v1h-1zM337 316h1v1h-1zM340 316h1v1h-1zM453 316h1v1h-1zM460 316h2v1h-2zM469 316h3v1h-3zM481 316h1v1h-1zM489 316h2v1h-2zM526 316h1v1h-1zM591 316h1v1h-1zM596 316h1v1h-1zM610 316h1v1h-1zM613 316h2v1h-2zM114 317h1v1h-1zM132 317h1v1h-1zM158 317h1v1h-1zM296 317h1v1h-1zM300 317h2v1h-2zM325 317h1v1h-1zM341 317h1v1h-1zM453 317h1v1h-1zM459 317h2v1h-2zM471 317h3v1h-3zM480 317h1v1h-1zM490 317h1v1h-1zM590 317h1v1h-1zM596 317h2v1h-2zM614 317h2v1h-2zM115 318h1v1h-1zM132 318h1v1h-1zM302 318h1v1h-1zM325 318h3v1h-3zM342 318h2v1h-2zM457 318h2v1h-2zM473 318h3v1h-3zM479 318h1v1h-1zM527 318h1v1h-1zM530 318h1v1h-1zM589 318h1v1h-1zM597 318h1v1h-1zM609 318h1v1h-1zM616 318h1v1h-1zM116 319h1v1h-1zM131 319h1v1h-1zM158 319h1v1h-1zM296 319h1v1h-1zM302 319h1v1h-1zM324 319h2v1h-2zM328 319h1v1h-1zM337 319h1v1h-1zM343 319h1v1h-1zM454 319h4v1h-4zM475 319h1v1h-1zM479 319h1v1h-1zM490 319h2v1h-2zM527 319h1v1h-1zM529 319h3v1h-3zM589 319h1v1h-1zM598 319h2v1h-2zM616 319h1v1h-1zM116 320h1v1h-1zM131 320h1v1h-1zM303 320h1v1h-1zM314 320h1v1h-1zM329 320h1v1h-1zM343 320h1v1h-1zM370 320h1v1h-1zM476 320h2v1h-2zM479 320h1v1h-1zM491 320h1v1h-1zM528 320h2v1h-2zM531 320h2v1h-2zM588 320h1v1h-1zM599 320h1v1h-1zM609 320h1v1h-1zM617 320h1v1h-1zM65 321h1v1h-1zM117 321h1v1h-1zM130 321h1v1h-1zM159 321h1v1h-1zM296 321h1v1h-1zM304 321h1v1h-1zM323 321h1v1h-1zM329 321h1v1h-1zM336 321h1v1h-1zM344 321h2v1h-2zM477 321h2v1h-2zM492 321h1v1h-1zM527 321h2v1h-2zM532 321h1v1h-1zM588 321h1v1h-1zM618 321h1v1h-1zM118 322h1v1h-1zM130 322h1v1h-1zM159 322h1v1h-1zM304 322h2v1h-2zM313 322h2v1h-2zM330 322h1v1h-1zM345 322h1v1h-1zM492 322h1v1h-1zM533 322h1v1h-1zM587 322h1v1h-1zM600 322h2v1h-2zM609 322h1v1h-1zM619 322h2v1h-2zM64 323h1v1h-1zM119 323h1v1h-1zM305 323h1v1h-1zM313 323h1v1h-1zM315 323h1v1h-1zM323 323h1v1h-1zM330 323h2v1h-2zM336 323h1v1h-1zM346 323h1v1h-1zM492 323h2v1h-2zM504 323h1v1h-1zM533 323h1v1h-1zM587 323h1v1h-1zM601 323h1v1h-1zM608 323h1v1h-1zM620 323h1v1h-1zM120 324h1v1h-1zM130 324h1v1h-1zM159 324h1v1h-1zM295 324h1v1h-1zM306 324h1v1h-1zM312 324h1v1h-1zM315 324h6v1h-6zM323 324h1v1h-1zM331 324h1v1h-1zM347 324h1v1h-1zM493 324h1v1h-1zM533 324h1v1h-1zM586 324h1v1h-1zM602 324h2v1h-2zM608 324h1v1h-1zM620 324h4v1h-4zM121 325h2v1h-2zM306 325h3v1h-3zM312 325h1v1h-1zM316 325h7v1h-7zM331 325h2v1h-2zM347 325h1v1h-1zM355 325h2v1h-2zM494 325h1v1h-1zM534 325h1v1h-1zM585 325h2v1h-2zM603 325h2v1h-2zM606 325h2v1h-2zM64 326h1v1h-1zM122 326h1v1h-1zM308 326h1v1h-1zM312 326h1v1h-1zM332 326h4v1h-4zM348 326h2v1h-2zM494 326h1v1h-1zM504 326h1v1h-1zM534 326h1v1h-1zM585 326h1v1h-1zM604 326h4v1h-4zM123 327h2v1h-2zM129 327h1v1h-1zM160 327h1v1h-1zM309 327h1v1h-1zM334 327h2v1h-2zM349 327h1v1h-1zM356 327h1v1h-1zM495 327h1v1h-1zM503 327h1v1h-1zM535 327h1v1h-1zM542 327h1v1h-1zM585 327h1v1h-1zM124 328h3v1h-3zM129 328h1v1h-1zM160 328h1v1h-1zM295 328h1v1h-1zM310 328h2v1h-2zM350 328h1v1h-1zM355 328h1v1h-1zM499 328h4v1h-4zM535 328h1v1h-1zM541 328h1v1h-1zM543 328h1v1h-1zM584 328h1v1h-1zM127 329h2v1h-2zM161 329h1v1h-1zM311 329h1v1h-1zM350 329h1v1h-1zM354 329h1v1h-1zM356 329h1v1h-1zM496 329h1v1h-1zM498 329h2v1h-2zM501 329h1v1h-1zM535 329h1v1h-1zM543 329h1v1h-1zM64 330h1v1h-1zM128 330h1v1h-1zM264 330h2v1h-2zM351 330h1v1h-1zM354 330h1v1h-1zM357 330h1v1h-1zM496 330h3v1h-3zM544 330h1v1h-1zM584 330h1v1h-1zM161 331h1v1h-1zM263 331h1v1h-1zM265 331h2v1h-2zM351 331h3v1h-3zM357 331h1v1h-1zM370 331h1v1h-1zM536 331h1v1h-1zM541 331h1v1h-1zM579 331h2v1h-2zM583 331h1v1h-1zM266 332h1v1h-1zM352 332h1v1h-1zM358 332h1v1h-1zM537 332h1v1h-1zM545 332h1v1h-1zM579 332h1v1h-1zM581 332h1v1h-1zM583 332h1v1h-1zM63 333h1v1h-1zM161 333h1v1h-1zM263 333h1v1h-1zM267 333h1v1h-1zM294 333h1v1h-1zM358 333h2v1h-2zM537 333h1v1h-1zM545 333h2v1h-2zM578 333h1v1h-1zM581 333h1v1h-1zM583 333h1v1h-1zM267 334h1v1h-1zM359 334h1v1h-1zM537 334h1v1h-1zM541 334h1v1h-1zM546 334h1v1h-1zM578 334h1v1h-1zM581 334h2v1h-2zM162 335h1v1h-1zM263 335h1v1h-1zM267 335h1v1h-1zM360 335h1v1h-1zM538 335h1v1h-1zM546 335h1v1h-1zM577 335h1v1h-1zM63 336h1v1h-1zM162 336h1v1h-1zM262 336h1v1h-1zM360 336h1v1h-1zM539 336h2v1h-2zM547 336h2v1h-2zM577 336h1v1h-1zM268 337h1v1h-1zM294 337h1v1h-1zM361 337h1v1h-1zM539 337h1v1h-1zM547 337h4v1h-4zM569 337h1v1h-1zM576 337h1v1h-1zM163 338h1v1h-1zM268 338h2v1h-2zM361 338h1v1h-1zM539 338h2v1h-2zM550 338h1v1h-1zM568 338h1v1h-1zM570 338h1v1h-1zM576 338h1v1h-1zM62 339h1v1h-1zM269 339h1v1h-1zM273 339h2v1h-2zM362 339h1v1h-1zM550 339h3v1h-3zM568 339h1v1h-1zM570 339h1v1h-1zM575 339h1v1h-1zM163 340h1v1h-1zM262 340h1v1h-1zM269 340h1v1h-1zM273 340h1v1h-1zM275 340h1v1h-1zM294 340h1v1h-1zM362 340h1v1h-1zM370 340h1v1h-1zM551 340h2v1h-2zM568 340h1v1h-1zM570 340h2v1h-2zM574 340h2v1h-2zM163 341h1v1h-1zM275 341h2v1h-2zM285 341h2v1h-2zM363 341h1v1h-1zM552 341h2v1h-2zM571 341h1v1h-1zM573 341h2v1h-2zM62 342h1v1h-1zM270 342h1v1h-1zM272 342h1v1h-1zM276 342h2v1h-2zM284 342h1v1h-1zM287 342h1v1h-1zM293 342h1v1h-1zM363 342h1v1h-1zM366 342h4v1h-4zM553 342h1v1h-1zM567 342h1v1h-1zM572 342h3v1h-3zM52 343h1v1h-1zM164 343h1v1h-1zM277 343h1v1h-1zM283 343h2v1h-2zM287 343h1v1h-1zM292 343h2v1h-2zM364 343h1v1h-1zM366 343h1v1h-1zM368 343h2v1h-2zM554 343h1v1h-1zM566 343h2v1h-2zM572 343h1v1h-1zM52 344h2v1h-2zM62 344h1v1h-1zM271 344h1v1h-1zM278 344h1v1h-1zM283 344h1v1h-1zM288 344h1v1h-1zM292 344h1v1h-1zM364 344h2v1h-2zM554 344h1v1h-1zM565 344h2v1h-2zM54 345h1v1h-1zM61 345h1v1h-1zM164 345h1v1h-1zM261 345h1v1h-1zM279 345h1v1h-1zM282 345h1v1h-1zM288 345h2v1h-2zM292 345h1v1h-1zM555 345h1v1h-1zM562 345h5v1h-5zM54 346h1v1h-1zM219 346h1v1h-1zM280 346h1v1h-1zM282 346h1v1h-1zM289 346h1v1h-1zM291 346h1v1h-1zM556 346h1v1h-1zM560 346h3v1h-3zM54 347h1v1h-1zM61 347h1v1h-1zM164 347h1v1h-1zM181 347h1v1h-1zM218 347h1v1h-1zM281 347h1v1h-1zM289 347h3v1h-3zM556 347h5v1h-5zM55 348h1v1h-1zM165 348h1v1h-1zM218 348h2v1h-2zM229 348h1v1h-1zM558 348h2v1h-2zM55 349h4v1h-4zM60 349h1v1h-1zM165 349h1v1h-1zM180 349h1v1h-1zM182 349h1v1h-1zM217 349h1v1h-1zM219 349h1v1h-1zM57 350h4v1h-4zM166 350h1v1h-1zM182 350h1v1h-1zM217 350h1v1h-1zM228 350h2v1h-2zM261 350h1v1h-1zM182 351h1v1h-1zM217 351h1v1h-1zM220 351h1v1h-1zM260 351h1v1h-1zM166 352h1v1h-1zM180 352h1v1h-1zM183 352h1v1h-1zM216 352h1v1h-1zM221 352h1v1h-1zM228 352h1v1h-1zM260 352h1v1h-1zM183 353h1v1h-1zM216 353h1v1h-1zM230 353h1v1h-1zM258 353h2v1h-2zM167 354h1v1h-1zM184 354h1v1h-1zM201 354h1v1h-1zM215 354h1v1h-1zM221 354h1v1h-1zM228 354h1v1h-1zM256 354h3v1h-3zM167 355h1v1h-1zM180 355h1v1h-1zM184 355h1v1h-1zM202 355h1v1h-1zM254 355h4v1h-4zM168 356h1v1h-1zM185 356h1v1h-1zM201 356h2v1h-2zM215 356h1v1h-1zM221 356h1v1h-1zM230 356h1v1h-1zM252 356h3v1h-3zM168 357h1v1h-1zM185 357h2v1h-2zM201 357h1v1h-1zM203 357h1v1h-1zM222 357h1v1h-1zM227 357h1v1h-1zM251 357h2v1h-2zM168 358h1v1h-1zM200 358h1v1h-1zM204 358h3v1h-3zM214 358h2v1h-2zM249 358h2v1h-2zM169 359h1v1h-1zM179 359h1v1h-1zM186 359h1v1h-1zM191 359h1v1h-1zM199 359h1v1h-1zM203 359h6v1h-6zM214 359h1v1h-1zM222 359h1v1h-1zM230 359h2v1h-2zM248 359h2v1h-2zM169 360h1v1h-1zM187 360h1v1h-1zM189 360h4v1h-4zM197 360h3v1h-3zM209 360h1v1h-1zM213 360h1v1h-1zM223 360h1v1h-1zM227 360h1v1h-1zM231 360h1v1h-1zM245 360h3v1h-3zM170 361h1v1h-1zM187 361h2v1h-2zM192 361h5v1h-5zM210 361h4v1h-4zM244 361h1v1h-1zM170 362h1v1h-1zM179 362h1v1h-1zM188 362h1v1h-1zM193 362h3v1h-3zM212 362h1v1h-1zM223 362h1v1h-1zM232 362h1v1h-1zM244 362h1v1h-1zM223 363h1v1h-1zM244 363h1v1h-1zM170 364h2v1h-2zM227 364h1v1h-1zM232 364h1v1h-1zM243 364h1v1h-1zM171 365h2v1h-2zM177 365h2v1h-2zM224 365h1v1h-1zM226 365h1v1h-1zM233 365h1v1h-1zM242 365h2v1h-2zM172 366h1v1h-1zM176 366h2v1h-2zM224 366h1v1h-1zM226 366h1v1h-1zM233 366h1v1h-1zM242 366h1v1h-1zM172 367h3v1h-3zM176 367h1v1h-1zM225 367h1v1h-1zM241 367h1v1h-1zM173 368h3v1h-3zM234 368h1v1h-1zM240 368h1v1h-1zM225 369h1v1h-1zM240 369h1v1h-1zM234 370h1v1h-1zM239 370h1v1h-1zM234 371h1v1h-1zM238 371h1v1h-1zM235 372h1v1h-1zM238 373h1v1h-1zM235 374h1v1h-1zM236 375h1v1h-1zM238 375h1v1h-1zM236 377h2v1h-2z"/>
<path fill="#000" d="M52 24h573v1h-573zM52 444h573v1h-573zM52 24h1v421h-1zM624 24h1v421h-1zM52 339h573v1h-573zM52 234h573v1h-573zM52 129h573v1h-573zM76 25h1v4h-1zM76 440h1v4h-1zM100 25h1v4h-1zM100 440h1v4h-1zM123 25h1v4h-1zM123 440h1v4h-1zM147 25h1v4h-1zM147 440h1v4h-1zM171 25h1v8h-1zM171 436h1v8h-1zM195 25h1v4h-1zM195 440h1v4h-1zM219 25h1v4h-1zM219 440h1v4h-1zM243 25h1v4h-1zM243 440h1v4h-1zM267 25h1v4h-1zM267 440h1v4h-1zM290 25h1v8h-1zM290 436h1v8h-1zM314 25h1v4h-1zM314 440h1v4h-1zM338 25h1v4h-1zM338 440h1v4h-1zM362 25h1v4h-1zM362 440h1v4h-1zM386 25h1v4h-1zM386 440h1v4h-1zM410 25h1v8h-1zM410 436h1v8h-1zM433 25h1v4h-1zM433 440h1v4h-1zM457 25h1v4h-1zM457 440h1v4h-1zM481 25h1v4h-1zM481 440h1v4h-1zM505 25h1v4h-1zM505 440h1v4h-1zM529 25h1v8h-1zM529 436h1v8h-1zM553 25h1v4h-1zM553 440h1v4h-1zM577 25h1v4h-1zM577 440h1v4h-1zM600 25h1v4h-1zM600 440h1v4h-1zM53 412h6v1h-6zM618 412h6v1h-6zM53 394h6v1h-6zM618 394h6v1h-6zM53 381h6v1h-6zM618 381h6v1h-6zM53 371h6v1h-6zM618 371h6v1h-6zM53 362h6v1h-6zM618 362h6v1h-6zM53 355h6v1h-6zM618 355h6v1h-6zM53 349h6v1h-6zM618 349h6v1h-6zM53 344h6v1h-6zM618 344h6v1h-6zM53 307h6v1h-6zM618 307h6v1h-6zM53 289h6v1h-6zM618 289h6v1h-6zM53 276h6v1h-6zM618 276h6v1h-6zM53 266h6v1h-6zM618 266h6v1h-6zM53 257h6v1h-6zM618 257h6v1h-6zM53 250h6v1h-6zM618 250h6v1h-6zM53 244h6v1h-6zM618 244h6v1h-6zM53 239h6v1h-6zM618 239h6v1h-6zM53 202h6v1h-6zM618 202h6v1h-6zM53 184h6v1h-6zM618 184h6v1h-6zM53 171h6v1h-6zM618 171h6v1h-6zM53 161h6v1h-6zM618 161h6v1h-6zM53 152h6v1h-6zM618 152h6v1h-6zM53 145h6v1h-6zM618 145h6v1h-6zM53 139h6v1h-6zM618 139h6v1h-6zM53 134h6v1h-6zM618 134h6v1h-6zM53 97h6v1h-6zM618 97h6v1h-6zM53 79h6v1h-6zM618 79h6v1h-6zM53 66h6v1h-6zM618 66h6v1h-6zM53 56h6v1h-6zM618 56h6v1h-6zM53 47h6v1h-6zM618 47h6v1h-6zM53 40h6v1h-6zM618 40h6v1h-6zM53 34h6v1h-6zM618 34h6v1h-6zM53 29h6v1h-6zM618 29h6v1h-6z"/>
</g>
<g id="title">
<text x="157.7" y="20" font-size="13.9" textLength="31.7" lengthAdjust="spacingAndGlyphs">GOES</text>
<text x="195.6" y="20" font-size="13.9" textLength="15.8" lengthAdjust="spacingAndGlyphs">0.1</text>
<text x="212.2" y="20" font-size="13.9" textLength="11.8" lengthAdjust="spacingAndGlyphs">−</text>
<text x="225" y="20" font-size="13.9" textLength="38.6" lengthAdjust="spacingAndGlyphs">0.8nm</text>
<text x="272.5" y="20" font-size="13.9" textLength="31.3" lengthAdjust="spacingAndGlyphs">(red),</text>
<text x="312.5" y="20" font-size="13.9" textLength="29.8" lengthAdjust="spacingAndGlyphs">LYRA</text>
<text x="347.8" y="20" font-size="13.9" textLength="10.5" lengthAdjust="spacingAndGlyphs">Al</text>
<text x="365.4" y="20" font-size="13.9" textLength="33.8" lengthAdjust="spacingAndGlyphs">(blue)</text>
<text x="407" y="20" font-size="13.9" textLength="9" lengthAdjust="spacingAndGlyphs">&amp;</text>
<text x="423.8" y="20" font-size="13.9" textLength="12.2" lengthAdjust="spacingAndGlyphs">Zr</text>
<text x="443.8" y="20" font-size="13.9" textLength="35.4" lengthAdjust="spacingAndGlyphs">(grey)</text>
<text x="487" y="20" font-size="13.9" textLength="31.3" lengthAdjust="spacingAndGlyphs">proxy</text>
</g>
<g id="xlabel">
<text x="266.2" y="470.2" font-size="10.1" textLength="22.8" lengthAdjust="spacing">Time</text>
<text transform="translate(294 473) skewX(-14)" font-size="16">/</text>
<text x="306" y="470.2" font-size="10.1" textLength="5.5" lengthAdjust="spacingAndGlyphs">h</text>
<text x="318.3" y="470.2" font-size="10.1" textLength="20.9" lengthAdjust="spacingAndGlyphs">UTC,</text>
<text x="344.8" y="470.2" font-size="10.1" textLength="9.8" lengthAdjust="spacingAndGlyphs">21</text>
<text x="361.4" y="470.2" font-size="10.1" textLength="19.4" lengthAdjust="spacing">Aug</text>
<text x="387" y="470.2" font-size="10.1" textLength="23" lengthAdjust="spacing">2014</text>
</g>
<g id="footer">
<text x="489" y="494.7" font-size="10.7" textLength="19.6" lengthAdjust="spacingAndGlyphs">ROB</text>
<text transform="translate(508.7 498) skewX(-14)" font-size="16">/</text>
<text x="516.6" y="494.7" font-size="10.7" textLength="28.2" lengthAdjust="spacingAndGlyphs">SIDC,</text>
<text x="550.3" y="494.7" font-size="10.7" textLength="45.7" lengthAdjust="spacing">Brussels,</text>
<text x="601.5" y="494.7" font-size="10.7" textLength="40.7" lengthAdjust="spacing">Belgium</text>
</g>
<g id="xticks" font-size="10" text-anchor="middle">
<text x="52.5" y="458">0</text>
<text x="171.8" y="458">5</text>
<text x="291.0" y="458">10</text>
<text x="410.2" y="458">15</text>
<text x="529.5" y="458">20</text>
</g>
<g id="yticks" font-size="8.4" style="stroke-width:0.45px">
<text x="33.8" y="445.2" textLength="8.6" lengthAdjust="spacing">10</text><text x="43.2" y="440.8" font-size="5.6" textLength="6.8" lengthAdjust="spacing">−7</text>
<text x="33.8" y="343.2" textLength="8.6" lengthAdjust="spacing">10</text><text x="43.2" y="338.8" font-size="5.6" textLength="6.8" lengthAdjust="spacing">−6</text>
<text x="33.8" y="238.2" textLength="8.6" lengthAdjust="spacing">10</text><text x="43.2" y="233.8" font-size="5.6" textLength="6.8" lengthAdjust="spacing">−5</text>
<text x="33.8" y="133.2" textLength="8.6" lengthAdjust="spacing">10</text><text x="43.2" y="128.8" font-size="5.6" textLength="6.8" lengthAdjust="spacing">−4</text>
<text x="33.8" y="30.2" textLength="8.6" lengthAdjust="spacing">10</text><text x="43.2" y="25.8" font-size="5.6" textLength="6.8" lengthAdjust="spacing">−3</text>
</g>
<g id="classes" font-size="10.5">
<text x="631.6" y="80.1" textLength="5.8" lengthAdjust="spacingAndGlyphs">X</text>
<text x="631.6" y="185.1" textLength="6.6" lengthAdjust="spacingAndGlyphs">M</text>
<text x="631.6" y="290.1" textLength="6.4" lengthAdjust="spacingAndGlyphs">C</text>
<text x="631.6" y="395.1" textLength="6.2" lengthAdjust="spacingAndGlyphs">B</text>
</g>
<g id="ylabel" transform="translate(26.3 289) rotate(-90)" font-size="8.5" style="stroke-width:0.2px"><text x="0.3" y="0" textLength="19.6" lengthAdjust="spacingAndGlyphs">GOES</text><text x="24.8" y="0" textLength="37.8" lengthAdjust="spacing">Irradiance</text><text transform="translate(67 1.7) skewX(-15)" font-size="12" style="stroke-width:0">/</text><text x="77.6" y="0" textLength="9.4" lengthAdjust="spacingAndGlyphs">(W</text><text x="91.3" y="0" textLength="6.7" lengthAdjust="spacingAndGlyphs">m</text><text x="98.4" y="-4.6" font-size="5.6" textLength="6.6" lengthAdjust="spacing">−2</text><text x="105.6" y="0">)</text></g>
</svg>
</body></html>
